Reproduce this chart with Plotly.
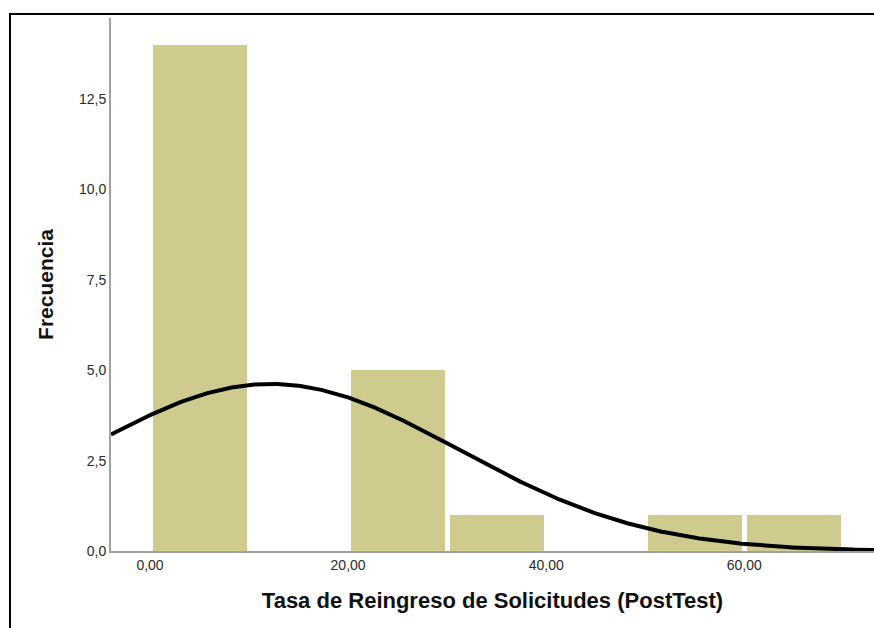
import numpy as np
import plotly.graph_objects as go

# Histogram bins (width 10) and their frequencies
bin_starts = [0, 10, 20, 30, 40, 50, 60]
frequencies = [14, 0, 5, 1, 0, 1, 1]
bin_width = 10

# Normal curve parameters of the sample
n_obs = 22
mean_val = 12.2
std_val = 19.0

y_tick_vals = [0, 2.5, 5, 7.5, 10, 12.5]
y_tick_text = ["0,0", "2,5", "5,0", "7,5", "10,0", "12,5"]
x_tick_vals = [0, 20, 40, 60]
x_tick_text = ["0,00", "20,00", "40,00", "60,00"]

x_range = [-3.94, 73.1]
y_range = [0, 14.74]

bar_centers = [s + bin_width / 2 for s in bin_starts]

xs = np.linspace(x_range[0], x_range[1], 400)
curve = n_obs * bin_width / (std_val * np.sqrt(2 * np.pi)) * np.exp(-((xs - mean_val) ** 2) / (2 * std_val ** 2))

fig = go.Figure()
fig.add_trace(go.Bar(
    x=bar_centers, y=frequencies, width=bin_width * 0.95,
    marker=dict(color="#cfca8e", line=dict(width=0)),
    hoverinfo="x+y", showlegend=False,
))
fig.add_trace(go.Scatter(
    x=xs, y=curve, mode="lines",
    line=dict(color="black", width=4),
    hoverinfo="skip", showlegend=False, cliponaxis=False,
))

# Outer frame around the chart
fig.add_shape(type="rect", xref="paper", yref="paper",
              x0=-0.1324, x1=1.1, y0=-0.2, y1=1.0075,
              line=dict(color="black", width=2), layer="above")

fig.update_layout(
    width=874, height=628,
    margin=dict(l=111, r=0, t=18, b=77),
    paper_bgcolor="white", plot_bgcolor="white",
    font=dict(family="Liberation Sans, Arial, sans-serif", color="#333333"),
    bargap=0,
)
fig.update_xaxes(
    range=x_range, tickvals=x_tick_vals, ticktext=x_tick_text,
    showgrid=False, zeroline=False, ticks="",
    showline=True, linecolor="#a0a0a0", linewidth=1.5,
    tickfont=dict(size=14, color="#2a2a2a"),
    title=dict(text="<b>Tasa de Reingreso de Solicitudes (PostTest)</b>",
               font=dict(size=22, color="#111111"), standoff=21),
)
fig.update_yaxes(
    range=y_range, tickvals=y_tick_vals, ticktext=y_tick_text,
    showgrid=False, zeroline=False, ticks="",
    showline=True, linecolor="#a0a0a0", linewidth=2,
    tickfont=dict(size=14, color="#2a2a2a"),
    title=dict(text="<b>Frecuencia</b>", font=dict(size=21, color="#111111"), standoff=20),
)

fig.write_html("out.html")
